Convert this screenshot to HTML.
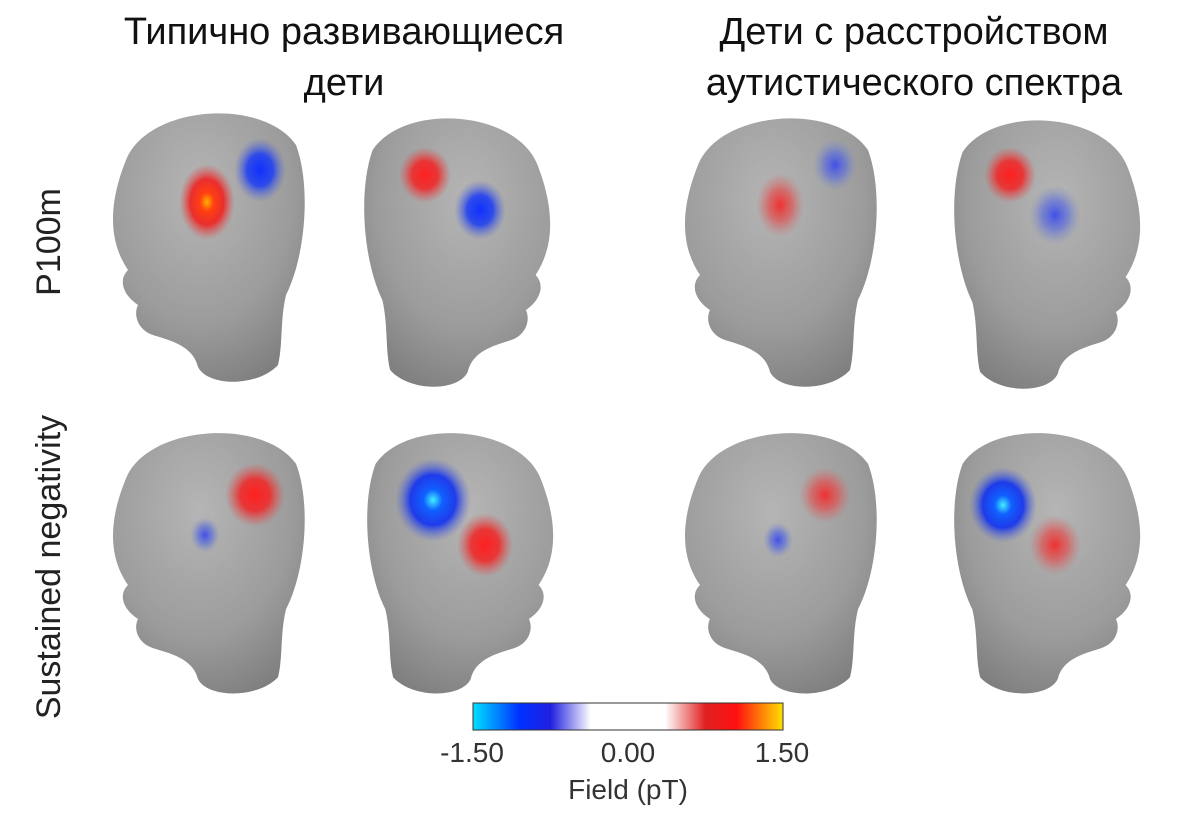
<!DOCTYPE html>
<html><head><meta charset="utf-8"><style>
body{margin:0;background:#fff;width:1200px;height:817px;overflow:hidden;font-family:"Liberation Sans","DejaVu Sans",sans-serif;}
</style></head><body>
<svg width="1200" height="817" viewBox="0 0 1200 817" xmlns="http://www.w3.org/2000/svg">
<defs>
<radialGradient id="hg" cx="0.45" cy="0.3" r="0.8">
<stop offset="0" stop-color="#b5b5b5"/><stop offset="0.6" stop-color="#9c9c9c"/><stop offset="1" stop-color="#7a7a7a"/>
</radialGradient>
<radialGradient id="red"><stop offset="0" stop-color="#ff2020"/><stop offset="0.5" stop-color="#ee2a2a" stop-opacity="0.9"/><stop offset="1" stop-color="#e05050" stop-opacity="0"/></radialGradient>
<radialGradient id="redo"><stop offset="0" stop-color="#ffb000"/><stop offset="0.25" stop-color="#ff4010"/><stop offset="0.6" stop-color="#f02020" stop-opacity="0.9"/><stop offset="1" stop-color="#e05050" stop-opacity="0"/></radialGradient>
<radialGradient id="redf"><stop offset="0" stop-color="#f03030"/><stop offset="0.5" stop-color="#e05050" stop-opacity="0.7"/><stop offset="1" stop-color="#d07070" stop-opacity="0"/></radialGradient>
<radialGradient id="blue"><stop offset="0" stop-color="#1030ff"/><stop offset="0.5" stop-color="#2040f0" stop-opacity="0.9"/><stop offset="1" stop-color="#6070d0" stop-opacity="0"/></radialGradient>
<radialGradient id="bluef"><stop offset="0" stop-color="#4050e8"/><stop offset="0.5" stop-color="#6070d8" stop-opacity="0.7"/><stop offset="1" stop-color="#8090c0" stop-opacity="0"/></radialGradient>
<radialGradient id="bluec"><stop offset="0" stop-color="#40f0ff"/><stop offset="0.25" stop-color="#1060ff"/><stop offset="0.6" stop-color="#1030f0" stop-opacity="0.9"/><stop offset="1" stop-color="#6070d0" stop-opacity="0"/></radialGradient>
<linearGradient id="cb" x1="0" x2="1">
<stop offset="0" stop-color="#00e0ff"/><stop offset="0.15" stop-color="#0030ff"/><stop offset="0.25" stop-color="#2020e0"/><stop offset="0.38" stop-color="#ffffff"/><stop offset="0.62" stop-color="#ffffff"/><stop offset="0.75" stop-color="#e02020"/><stop offset="0.85" stop-color="#ff1010"/><stop offset="1" stop-color="#ffe000"/>
</linearGradient>
<path id="hL" d="M18,55 C40,0 155,-8 188,40 C203,80 198,150 178,190 C172,215 175,240 170,260 C150,282 100,282 90,262 C85,240 60,235 45,230 C30,225 25,210 30,200 C15,190 10,175 20,165 C3,140 -2,105 18,55 Z"/>
</defs>
<g fill="url(#hg)">
<use href="#hL" transform="translate(108,105)"/>
<use href="#hL" transform="translate(555,110) scale(-0.97,1)"/>
<use href="#hL" transform="translate(680,110)"/>
<use href="#hL" transform="translate(1145,112) scale(-0.97,1)"/>
<use href="#hL" transform="translate(108,425) scale(1,0.97)"/>
<use href="#hL" transform="translate(558,425) scale(-0.97,0.97)"/>
<use href="#hL" transform="translate(680,425) scale(1,0.97)"/>
<use href="#hL" transform="translate(1145,425) scale(-0.97,0.97)"/>
</g>
<ellipse cx="207" cy="202" rx="28" ry="38" fill="url(#redo)"/>
<ellipse cx="260" cy="170" rx="26" ry="32" fill="url(#blue)"/>
<ellipse cx="425" cy="175" rx="26" ry="28" fill="url(#red)"/>
<ellipse cx="480" cy="210" rx="26" ry="30" fill="url(#blue)"/>
<ellipse cx="780" cy="205" rx="24" ry="32" fill="url(#redf)"/>
<ellipse cx="835" cy="165" rx="22" ry="26" fill="url(#bluef)"/>
<ellipse cx="1010" cy="175" rx="26" ry="28" fill="url(#red)"/>
<ellipse cx="1055" cy="215" rx="26" ry="30" fill="url(#bluef)"/>
<ellipse cx="255" cy="495" rx="30" ry="32" fill="url(#red)"/>
<ellipse cx="205" cy="535" rx="15" ry="18" fill="url(#bluef)"/>
<ellipse cx="433" cy="500" rx="38" ry="42" fill="url(#bluec)"/>
<ellipse cx="485" cy="545" rx="28" ry="32" fill="url(#red)"/>
<ellipse cx="825" cy="495" rx="26" ry="28" fill="url(#redf)"/>
<ellipse cx="778" cy="540" rx="15" ry="18" fill="url(#bluef)"/>
<ellipse cx="1003" cy="505" rx="34" ry="38" fill="url(#bluec)"/>
<ellipse cx="1055" cy="545" rx="26" ry="30" fill="url(#redf)"/>
<g font-size="38" fill="#111" text-anchor="middle">
<text x="344" y="44">Типично развивающиеся</text>
<text x="344" y="95">дети</text>
<text x="914" y="44">Дети с расстройством</text>
<text x="914" y="95">аутистического спектра</text>
</g>
<g font-size="34" fill="#222" text-anchor="middle">
<text transform="translate(60,242) rotate(-90)">P100m</text>
<text transform="translate(60,567) rotate(-90)">Sustained negativity</text>
</g>
<rect x="473" y="703" width="310" height="27" fill="url(#cb)" stroke="#333" stroke-width="1"/>
<g font-size="28" fill="#333" text-anchor="middle">
<text x="472" y="762">-1.50</text>
<text x="628" y="762">0.00</text>
<text x="782" y="762">1.50</text>
<text x="628" y="799">Field (pT)</text>
</g>
</svg>
</body></html>
